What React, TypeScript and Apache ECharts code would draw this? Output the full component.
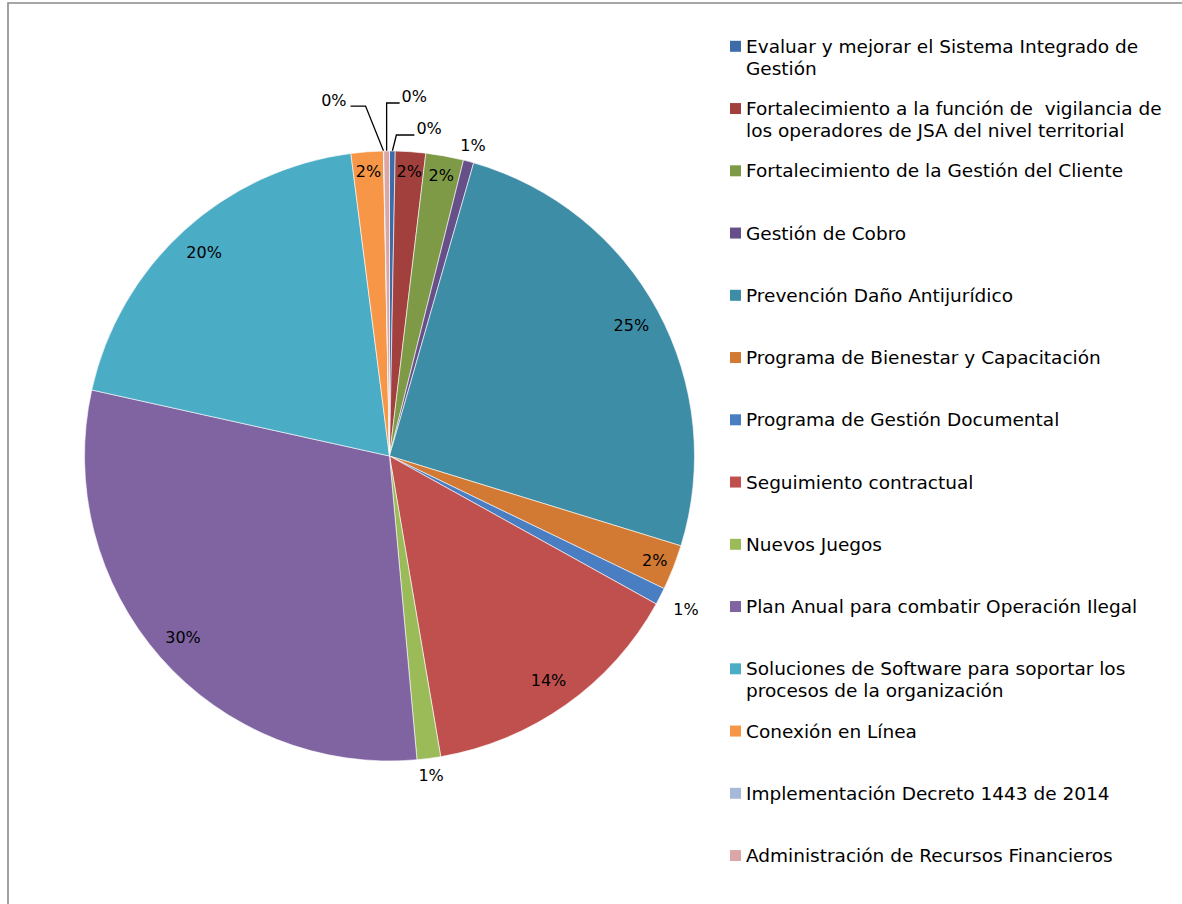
import React, { useEffect, useRef } from "react";
import * as echarts from "echarts";

const categories = [
  "Evaluar y mejorar el Sistema Integrado de Gestión",
  "Fortalecimiento a la función de  vigilancia de los operadores de JSA del nivel territorial",
  "Fortalecimiento de la Gestión del Cliente",
  "Gestión de Cobro",
  "Prevención Daño Antijurídico",
  "Programa de Bienestar y Capacitación",
  "Programa de Gestión Documental",
  "Seguimiento contractual",
  "Nuevos Juegos",
  "Plan Anual para combatir Operación Ilegal",
  "Soluciones de Software para soportar los procesos de la organización",
  "Conexión en Línea",
  "Implementación Decreto 1443 de 2014",
  "Administración de Recursos Financieros",
];

const legendLabels = [
  "Evaluar y mejorar el Sistema Integrado de\nGestión",
  "Fortalecimiento a la función de  vigilancia de\nlos operadores de JSA del nivel territorial",
  "Fortalecimiento de la Gestión del Cliente",
  "Gestión de Cobro",
  "Prevención Daño Antijurídico",
  "Programa de Bienestar y Capacitación",
  "Programa de Gestión Documental",
  "Seguimiento contractual",
  "Nuevos Juegos",
  "Plan Anual para combatir Operación Ilegal",
  "Soluciones de Software para soportar los\nprocesos de la organización",
  "Conexión en Línea",
  "Implementación Decreto 1443 de 2014",
  "Administración de Recursos Financieros",
];

// share of budget (%) per programme
const values = [0.3, 1.6, 2.0, 0.55, 25.3, 2.4, 0.9, 14.25, 1.25, 29.9, 19.5, 1.7, 0.02, 0.3];

const colors = [
  "#3E6CA8", "#A2403E", "#7E9A47", "#67508A", "#3C8DA5", "#D27A33", "#4A7EC2",
  "#C0504D", "#9BBB59", "#8064A2", "#4BACC6", "#F79646", "#A7B9DA", "#DBA6A6",
];

const insideBigIdx = [4, 7, 9, 10];
const insideSmallIdx = [1, 2, 5, 11];
const outsideNearIdx = [3, 8];
const outsideFarIdx = [6];
const leaderLabelIdx = [0, 12, 13];

export default function App() {
  const ref = useRef<HTMLDivElement>(null);

  useEffect(() => {
    const chart = echarts.init(ref.current!, null, { renderer: "svg" });
    const center = [389.5, 456];
    const R = 305;
    const fmt = (p: any) => Math.round(p.percent) + "%";
    const labelFont = { fontFamily: "DejaVu Sans", fontSize: 16, color: "#000" };

    const overlayData = (idxs: number[], line: boolean) =>
      categories.map((name, i) => ({
        name,
        value: values[i],
        label: { show: idxs.includes(i) },
        labelLine: { show: line && idxs.includes(i) },
      }));

    const overlayBase = {
      type: "pie",
      center,
      startAngle: 90,
      clockwise: true,
      silent: true,
      avoidLabelOverlap: false,
      emphasis: { disabled: true },
      itemStyle: { color: "rgba(0,0,0,0)", borderWidth: 0 },
    };

    const ring = (radius: number[], idxs: number[]) => ({
      ...overlayBase,
      radius,
      label: { position: "inside", formatter: fmt, ...labelFont },
      labelLine: { show: false },
      data: overlayData(idxs, false),
    });

    chart.setOption({
      animation: false,
      color: colors,
      graphic: [
        {
          type: "rect",
          shape: { x: 8, y: 3, width: 1300, height: 1000 },
          style: { fill: "none", stroke: "#8a8a8a", lineWidth: 1.6 },
          silent: true,
        },
      ],
      legend: {
        orient: "vertical",
        left: 730,
        top: 13.3,
        padding: 0,
        itemGap: -3.75,
        itemWidth: 11,
        itemHeight: 11,
        icon: "rect",
        selectedMode: false,
        itemStyle: { borderWidth: 0 },
        textStyle: { fontFamily: "DejaVu Sans", fontSize: 18.5, lineHeight: 22, color: "#000" },
        formatter: (name: string) => {
          const t = legendLabels[categories.indexOf(name)];
          return t.includes("\n") ? "\n" + t : "\n" + t + "\n";
        },
        data: categories,
      },
      series: [
        {
          type: "pie",
          center,
          radius: R,
          startAngle: 90,
          clockwise: true,
          silent: true,
          emphasis: { disabled: true },
          itemStyle: { borderColor: "#ffffff", borderWidth: 0.6 },
          label: { show: false },
          labelLine: { show: false },
          data: categories.map((name, i) => ({ name, value: values[i] })),
        },
        ring([238, 306], insideBigIdx),
        ring([258, 306], insideSmallIdx),
        ring([306, 332], outsideNearIdx),
        ring([306, 356], outsideFarIdx),
        {
          ...overlayBase,
          radius: R,
          label: { position: "outside", formatter: fmt, ...labelFont },
          labelLine: { show: true, length: 15, length2: 12, smooth: false, lineStyle: { color: "#000", width: 1.3 } },
          data: overlayData(leaderLabelIdx, true),
          labelLayout: (params: any) => {
            const pts = params.labelLinePoints;
            if (!pts || !pts[0]) return {};
            const x0 = pts[0][0];
            const y0 = pts[0][1];
            if (params.dataIndex === 0) {
              return {
                x: x0 + 24, y: y0 - 23, align: "left", verticalAlign: "middle",
                labelLinePoints: [[x0, y0], [x0 + 4, y0 - 16], [x0 + 22, y0 - 16]],
              };
            }
            if (params.dataIndex === 13) {
              return {
                x: x0 + 15, y: y0 - 55, align: "left", verticalAlign: "middle",
                labelLinePoints: [[x0, y0], [x0, y0 - 48], [x0 + 13, y0 - 48]],
              };
            }
            if (params.dataIndex === 12) {
              return {
                x: x0 - 37, y: y0 - 51, align: "right", verticalAlign: "middle",
                labelLinePoints: [[x0, y0], [x0 - 18, y0 - 45], [x0 - 33, y0 - 45]],
              };
            }
            return {};
          },
        },
      ],
    });

    return () => chart.dispose();
  }, []);

  return (
    <div
      ref={ref}
      style={{ position: "fixed", left: 0, top: 0, width: 1182, height: 904, background: "#fff" }}
    />
  );
}
